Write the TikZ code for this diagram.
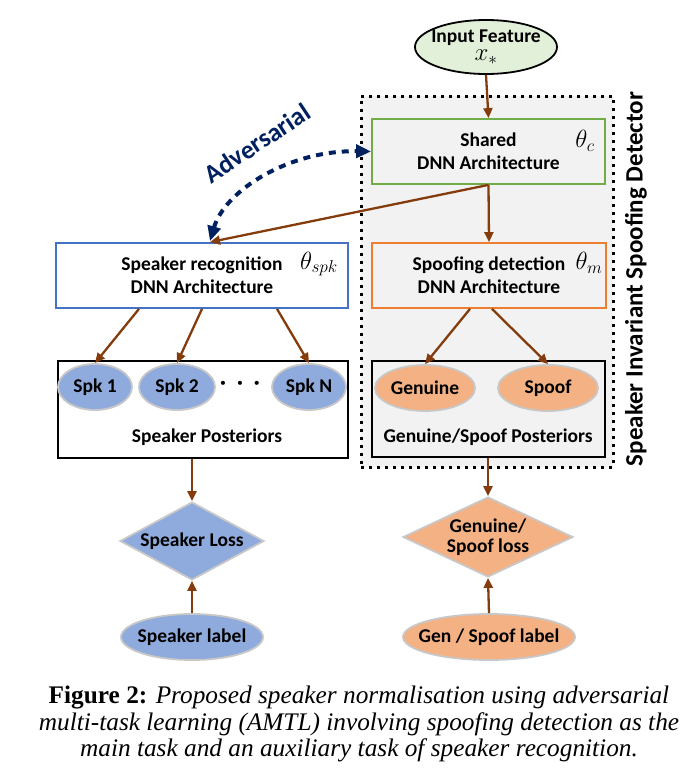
\documentclass[tikz,border=0pt]{standalone}
\usepackage{fontspec}
\setmainfont{Carlito}
\newfontfamily\capfont{Liberation Serif}
\usetikzlibrary{shapes.geometric,arrows.meta}
\definecolor{brw}{HTML}{843C0C}
\definecolor{navy}{HTML}{002060}
\definecolor{grn}{HTML}{70AD47}
\definecolor{blu}{HTML}{4472C4}
\definecolor{org}{HTML}{ED7D31}
\definecolor{bluefill}{HTML}{8FAADC}
\definecolor{orgfill}{HTML}{F4B183}
\definecolor{grayfill}{HTML}{F2F2F2}
\definecolor{greenfill}{HTML}{E2F0D9}
\definecolor{rimgray}{HTML}{C8C8C8}
\begin{document}
\begin{tikzpicture}[x=1pt,y=-1pt,
  lbl/.style={font=\fontsize{19.5}{23}\selectfont\bfseries, align=center},
  archbox/.style={rectangle, draw, line width=1.8pt, inner sep=0pt, minimum width=#1, minimum height=65pt, lbl},
  postbox/.style={rectangle, draw=black, line width=1.5pt, inner sep=0pt, minimum width=#1, minimum height=97pt},
  ell/.style={ellipse, draw=rimgray, line width=1.8pt, inner sep=0pt, lbl},
  dia/.style={diamond, draw=rimgray, line width=1.8pt, inner sep=0pt, lbl},
  brarrow/.style={draw=brw, line width=2.3pt, -{Triangle[length=10pt,width=9pt]}},
  mth/.style={font=\fontsize{25}{25}\selectfont, inner sep=0pt}
]
\useasboundingbox (0,0) rectangle (699,779);

% dotted container
\node[rectangle, draw=black, fill=grayfill, line width=3pt, dash pattern=on 3pt off 5pt,
      minimum width=252pt, minimum height=371pt, inner sep=0pt] (cont) at (487,281.5) {};
\node[font=\fontsize{25}{25}\selectfont\bfseries, rotate=90] (side) at (636,279) {Speaker Invariant Spoofing Detector};

% input
\node[ellipse, draw=black, line width=1.8pt, fill=greenfill, inner sep=0pt,
      minimum width=142pt, minimum height=54pt, lbl] (inp) at (486,47)
      {\makebox[0pt]{Input Feature}\\[-5pt]\makebox[0pt]{\normalfont\fontsize{23}{23}\selectfont$x_{*}$}};

% arch boxes
\node[archbox=233pt, draw=grn, fill=grayfill] (shared) at (488.5,151.5) {Shared\\DNN Architecture};
\node[mth] (thc) at (585,141) {$\theta_c$};
\node[archbox=292pt, draw=blu, fill=white] (sprec) at (202,275.5) {Speaker recognition\\DNN Architecture};
\node[mth] (thspk) at (319,264) {$\theta_{spk}$};
\node[archbox=234pt, draw=org, fill=grayfill] (spdet) at (489,275.5) {\makebox[0pt]{Spoofing detection}\\\makebox[0pt]{DNN Architecture}};
\node[mth] (thm) at (589,263) {$\theta_m$};

% posterior boxes
\node[postbox=290pt, fill=white] (spkpost) at (203,409.5) {};
\node[lbl] (spkposttxt) at (207,437) {Speaker Posteriors};
\node[postbox=233pt, fill=grayfill, minimum height=96pt] (genpost) at (488.5,409) {};
\node[lbl] (genposttxt) at (488,437) {Genuine/Spoof Posteriors};

\node[ell, fill=bluefill, minimum width=74pt, minimum height=46pt] (spk1) at (95,387) {\makebox[0pt]{Spk 1}};
\node[ell, fill=bluefill, minimum width=76pt, minimum height=46pt] (spk2) at (177,387) {\makebox[0pt]{Spk 2}};
\node[ell, fill=bluefill, minimum width=74pt, minimum height=46pt] (spkn) at (309,387) {\makebox[0pt]{Spk N}};
\node[font=\fontsize{22}{22}\selectfont\bfseries] (dots) at (240,385) {\textperiodcentered\enspace\textperiodcentered\enspace\textperiodcentered};
\node[ell, fill=orgfill, minimum width=100pt, minimum height=46pt] (gen) at (425,388) {\makebox[0pt]{Genuine}};
\node[ell, fill=orgfill, minimum width=100pt, minimum height=46pt] (spf) at (548,388) {\makebox[0pt]{Spoof}};

% losses
\node[dia, fill=bluefill, minimum width=144pt, minimum height=78pt] (sloss) at (192,541) {\makebox[0pt]{Speaker Loss}};
\node[dia, fill=orgfill, minimum width=170pt, minimum height=80pt] (gloss) at (488,537) {\makebox[0pt]{\shortstack{Genuine/\\[2pt]Spoof loss}}};

% labels
\node[ell, fill=bluefill, minimum width=142pt, minimum height=46pt] (slab) at (192,637) {\makebox[0pt]{Speaker label}};
\node[ell, fill=orgfill, minimum width=172pt, minimum height=46pt] (glab) at (489,637) {\makebox[0pt]{Gen / Spoof label}};

% arrows
\draw[brarrow] (inp.south) -- (shared.north);
\draw[brarrow] (shared.south) -- ([xshift=8pt]sprec.north);
\draw[brarrow] (shared.south) -- (spdet.north);
\draw[brarrow] ([xshift=-63pt]sprec.south) -- (spk1.north);
\draw[brarrow] (sprec.south) -- (spk2.north);
\draw[brarrow] ([xshift=75pt]sprec.south) -- (spkn.north);
\draw[brarrow] ([xshift=-19pt]spdet.south) -- (gen.north);
\draw[brarrow] ([xshift=3pt]spdet.south) -- (spf.north);
\draw[brarrow] (sloss.north |- spkpost.south) -- (sloss.north);
\draw[brarrow] (gloss.north |- genpost.south) -- (gloss.north);
\draw[brarrow] (slab.north) -- (sloss.south);
\draw[brarrow] (glab.north) -- (gloss.south);

% adversarial
\coordinate (advend) at ([xshift=8pt,yshift=1pt]sprec.north);
\draw[navy, line width=4pt, dash pattern=on 7pt off 6pt,
      {Triangle[length=15pt,width=13pt]}-{Triangle[length=15pt,width=13pt]}]
      (advend) .. controls (225,190) and (290,150) .. (shared.west);
\node[font=\fontsize{26}{26}\selectfont\bfseries, text=navy, rotate=33.5] (adv) at (257,143) {Adversarial};

% caption
\node[font=\capfont\fontsize{25.3}{26.5}\selectfont, align=center, inner sep=0pt] (cap) at (359,724)
  {\textbf{Figure 2:} \textit{Proposed speaker normalisation using adversarial}\\
   \textit{multi-task learning (AMTL) involving spoofing detection as the}\\
   \textit{main task and an auxiliary task of speaker recognition.}};
\end{tikzpicture}
\end{document}
